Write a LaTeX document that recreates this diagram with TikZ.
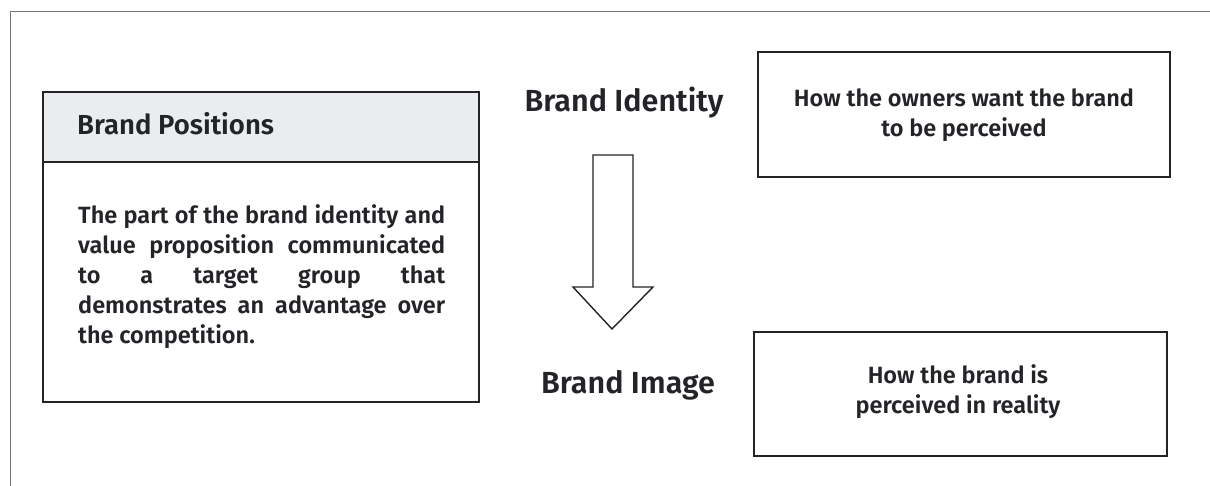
\documentclass[tikz,border=0pt]{standalone}
\usepackage{fontspec}
\setmainfont{Fira Sans}[BoldFont={Fira Sans SemiBold}]
\definecolor{ink}{HTML}{232428}
\definecolor{frame}{HTML}{767676}
\definecolor{headfill}{HTML}{EBECEE}
\begin{document}
\begin{tikzpicture}[x=1pt,y=-1pt,
  boxline/.style={draw=ink,line width=1.4pt},
  txt/.style={text=ink,font=\bfseries\fontsize{23.5}{30}\selectfont,inner sep=0pt},
  title/.style={text=ink,font=\bfseries\fontsize{30.5}{34}\selectfont,inner sep=0pt},
  headtxt/.style={text=ink,font=\bfseries\fontsize{27.5}{32}\selectfont,inner sep=0pt}]
\useasboundingbox (0,0) rectangle (1210,486);
% outer frame
\draw[frame,line width=1pt] (10,486) -- (10,12) -- (1210,12);
% left box
\fill[headfill] (43,92) rectangle (479,162);
\draw[boxline] (43,92) rectangle (479,402);
\draw[boxline] (43,162) -- (479,162);
\node[headtxt,anchor=base west] (hp) at (77,135) {Brand Positions};
\node[txt,anchor=base west,align=left] (body) at (78,343) {%
\makebox[367pt][s]{The part of the brand identity and}\\
\makebox[367pt][s]{value proposition communicated}\\
\makebox[367pt][s]{to a target group that}\\
\makebox[367pt][s]{demonstrates an advantage over}\\
the competition.};
% titles
\node[title,anchor=base] (bid) at (624,112) {Brand Identity};
\node[title,anchor=base] (bim) at (628,393) {Brand Image};
% block arrow
\draw[draw=ink,line width=1.4pt,line join=miter,fill=white]
  (593,155) -- (633,155) -- (633,287) -- (653,287) -- (612,329) -- (573,287) -- (593,287) -- cycle;
% right boxes
\draw[boxline] (758,52) rectangle (1170,177);
\node[txt,anchor=base,align=center] (idtxt) at (964,137) {How the owners want the brand\\to be perceived};
\draw[boxline] (754,332) rectangle (1167,456);
\node[txt,anchor=base,align=center] (imtxt) at (958,413) {How the brand is\\perceived in reality};
\end{tikzpicture}
\end{document}
